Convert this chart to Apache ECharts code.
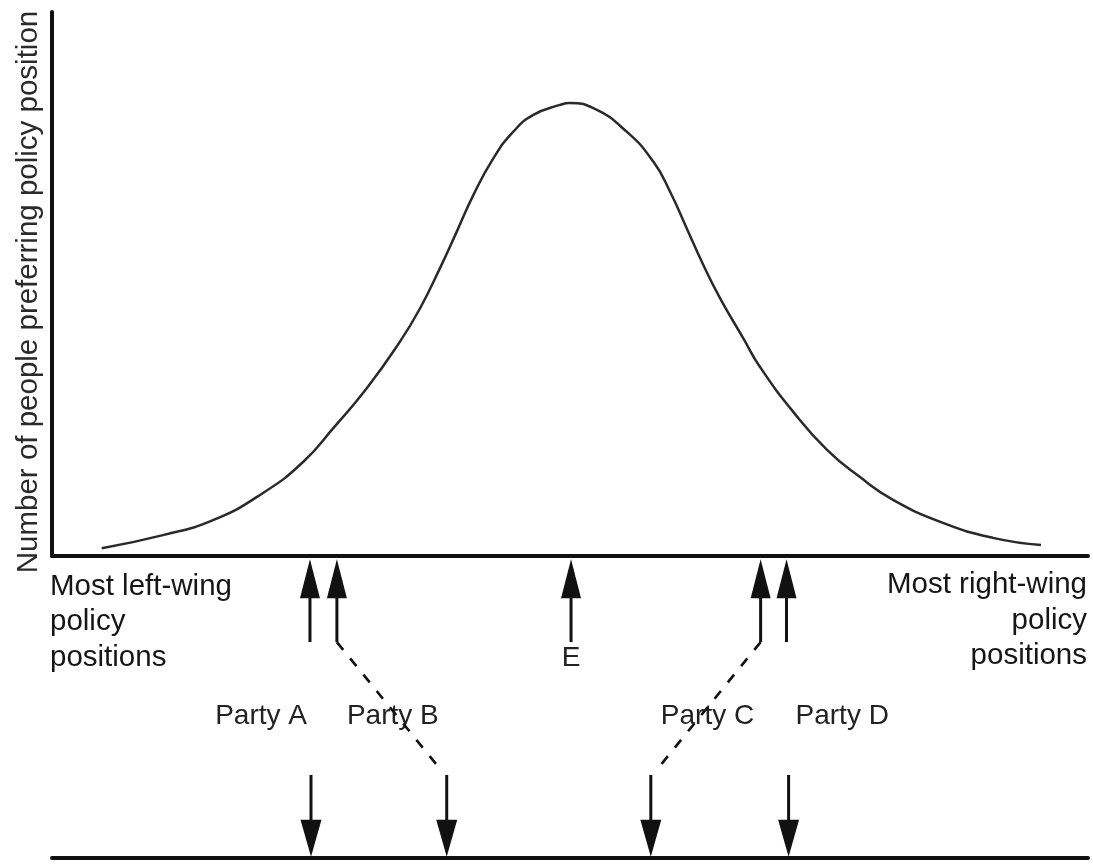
<!DOCTYPE html>
<html>
<head>
<meta charset="utf-8">
<script src="https://cdn.jsdelivr.net/npm/echarts@6/dist/echarts.min.js"></script>
<style>
html,body{margin:0;padding:0;background:#fff;}
#chart{width:1093px;height:864px;}
</style>
</head>
<body>
<div id="chart"></div>
<script>
// Voter distribution along the left-right policy scale
const policyPositions = [4.80, 10.71, 15.54, 20.37, 24.26, 27.15, 30.38, 33.59, 35.52, 37.45, 39.06, 40.67, 42.60, 44.53, 46.46, 49.03, 50.0, 52.25, 55.47, 58.04, 59.65, 61.26, 62.87, 64.48, 66.73, 68.34, 71.55, 74.81, 77.99, 81.18, 86.0, 90.83, 95.46];
const peopleCount = [1.7, 4.6, 7.9, 13.9, 20.8, 28.2, 37.0, 47.3, 54.6, 63.5, 71.5, 79.6, 87.7, 93.6, 97.3, 99.5, 99.9, 98.8, 93.6, 87.0, 80.4, 72.3, 64.2, 56.9, 48.0, 41.7, 31.8, 23.4, 17.4, 12.4, 7.3, 4.0, 2.4];

// Parties: initial positions (upper arrows) and later positions (lower arrows)
const parties = ['Party A', 'Party B', 'Party C', 'Party D'];
const initialPositions = [24.9, 27.5, 68.4, 70.9];
const laterPositions = [25.0, 38.1, 57.8, 71.1];
const medianLabel = 'E';
const medianPosition = 50.1;

const yAxisTitle = 'Number of people preferring policy position';
const leftEndLabel = 'Most left-wing\npolicy\npositions';
const rightEndLabel = 'Most right-wing\npolicy\npositions';

// ---- layout (lower panel, value 0 = bottom line, 100 = main axis) ----
const SHAFT_TOP_END = 71.5, HEAD_UP = 92.5;
const SHAFT_BOTTOM_START = 27.5, HEAD_DOWN = 6.5;
const PARTY_LABEL_Y = 47, E_LABEL_Y = 66.2;
const DARK = '#111', TEXT = '#222';
const FONT = '"Liberation Sans", Arial, Helvetica, sans-serif';

const series = [];
series.push({
  type: 'line', xAxisIndex: 0, yAxisIndex: 0,
  data: policyPositions.map((x, i) => [x, peopleCount[i]]),
  smooth: 0.5, showSymbol: false, symbol: 'none',
  lineStyle: {color: '#2a2a2a', width: 2.5, opacity: 1},
  silent: true, clip: false
});

function seg(a, b, dashed, w) {
  series.push({
    type: 'line', xAxisIndex: 1, yAxisIndex: 1,
    data: [a, b], symbol: 'none', showSymbol: false, clip: false, silent: true,
    lineStyle: {color: DARK, width: w || 3, opacity: 1, type: dashed ? [10, 11] : 'solid'}
  });
}

const upPositions = initialPositions.concat([medianPosition]);
upPositions.forEach(x => seg([x, SHAFT_TOP_END], [x, HEAD_UP], false));
laterPositions.forEach(x => seg([x, SHAFT_BOTTOM_START], [x, HEAD_DOWN], false));
initialPositions.forEach((x, i) => {
  const to = laterPositions[i];
  if (Math.abs(to - x) > 1) {
    const s = Math.sign(to - x);
    seg([x, SHAFT_TOP_END], [to - s * 1.0, SHAFT_BOTTOM_START + 3.5], true, 2.6);
  }
});

series.push({
  type: 'scatter', xAxisIndex: 1, yAxisIndex: 1, clip: false, silent: true,
  symbol: 'triangle', symbolSize: [20, 39],
  itemStyle: {color: DARK, opacity: 1},
  data: upPositions.map(x => [x, HEAD_UP])
});
series.push({
  type: 'scatter', xAxisIndex: 1, yAxisIndex: 1, clip: false, silent: true,
  symbol: 'triangle', symbolSize: [21, 37], symbolRotate: 180,
  itemStyle: {color: DARK, opacity: 1},
  data: laterPositions.map(x => [x, HEAD_DOWN])
});

// text labels
const baseLabel = {show: true, position: [0, 0], color: TEXT, fontFamily: FONT, fontSize: 28, opacity: 1};
const labelData = [];
parties.forEach((p, i) => {
  const a = initialPositions[i], b = laterPositions[i];
  let x, align, dx;
  if (Math.abs(a - b) > 1) { x = Math.min(a, b); align = 'left'; dx = 10; }
  else if (a < medianPosition) { x = a; align = 'right'; dx = -3; }
  else { x = a; align = 'left'; dx = 9; }
  labelData.push({value: [x, PARTY_LABEL_Y], label: Object.assign({}, baseLabel, {
    formatter: p, align: align, verticalAlign: 'middle', offset: [dx, 0]})});
});
labelData.push({value: [medianPosition, E_LABEL_Y], label: Object.assign({}, baseLabel, {
  formatter: medianLabel, align: 'center', verticalAlign: 'middle'})});
labelData.push({value: [0, 95.7], label: Object.assign({}, baseLabel, {
  formatter: leftEndLabel, align: 'left', verticalAlign: 'top', lineHeight: 35.5, offset: [-2, 0],
  fontSize: 29.5, color: '#161616'})});
labelData.push({value: [100, 96.2], label: Object.assign({}, baseLabel, {
  formatter: rightEndLabel, align: 'right', verticalAlign: 'top', lineHeight: 35.5, offset: [-1, 0],
  fontSize: 29.5, color: '#161616'})});
series.push({
  type: 'scatter', xAxisIndex: 1, yAxisIndex: 1, clip: false, silent: true,
  symbolSize: 0, itemStyle: {opacity: 1}, data: labelData
});

const hidden = {show: false};
const option = {
  backgroundColor: '#fff',
  animation: false,
  grid: [
    {left: 52, right: 5, top: 12, height: 544, outerBoundsMode: 'none', containLabel: false},
    {left: 52, right: 5, top: 556, bottom: 6, outerBoundsMode: 'none', containLabel: false}
  ],
  xAxis: [
    {gridIndex: 0, type: 'value', min: 0, max: 100,
     axisLine: {show: true, onZero: false, lineStyle: {color: DARK, width: 4}},
     axisTick: hidden, axisLabel: hidden, splitLine: hidden},
    {gridIndex: 1, type: 'value', min: 0, max: 100, position: 'bottom',
     axisLine: {show: true, onZero: false, lineStyle: {color: DARK, width: 4}},
     axisTick: hidden, axisLabel: hidden, splitLine: hidden}
  ],
  yAxis: [
    {gridIndex: 0, type: 'value', min: 0, max: 120,
     name: yAxisTitle, nameLocation: 'middle', nameGap: 8,
     nameTextStyle: {color: '#2a2a2a', fontFamily: FONT, fontSize: 29.5, padding: [0, 16, 0, 0]},
     axisLine: {show: true, onZero: false, lineStyle: {color: DARK, width: 4}},
     axisTick: hidden, axisLabel: hidden, splitLine: hidden},
    {gridIndex: 1, type: 'value', min: 0, max: 100, show: false,
     axisLine: hidden, axisTick: hidden, axisLabel: hidden, splitLine: hidden}
  ],
  series: series
};
const chart = echarts.init(document.getElementById('chart'), null, {renderer: 'canvas'});
chart.setOption(option);
</script>
</body>
</html>
